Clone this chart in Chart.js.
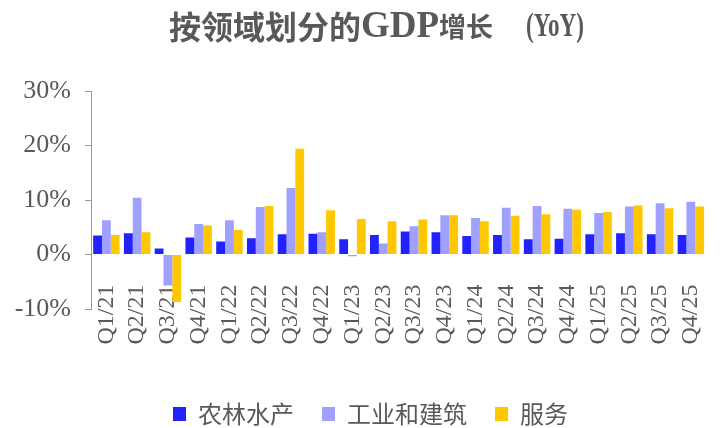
<!DOCTYPE html>
<html>
<head>
<meta charset="utf-8">
<script src="https://cdn.jsdelivr.net/npm/chart.js@4"></script>
<style>
  html, body { margin: 0; background: #fff; }
  #wrap { width: 720px; height: 428px; }
</style>
</head>
<body>
<div id="wrap"><canvas id="gdpChart"></canvas></div>
<script>
// data (YoY %, quarterly)
const quarters = ["Q1/21", "Q2/21", "Q3/21", "Q4/21", "Q1/22", "Q2/22", "Q3/22", "Q4/22",
  "Q1/23", "Q2/23", "Q3/23", "Q4/23", "Q1/24", "Q2/24", "Q3/24", "Q4/24",
  "Q1/25", "Q2/25", "Q3/25", "Q4/25"];
const agriculture = [3.5, 3.9, 1.1, 3.1, 2.4, 3.0, 3.7, 3.8, 2.8, 3.6, 4.2, 4.1, 3.4, 3.6, 2.8, 2.9, 3.7, 3.9, 3.7, 3.6];
const industry = [6.3, 10.4, -5.7, 5.6, 6.3, 8.7, 12.2, 4.1, -0.3, 2.0, 5.2, 7.2, 6.7, 8.6, 8.9, 8.4, 7.6, 8.8, 9.4, 9.7];
const services = [3.6, 4.1, -8.7, 5.3, 4.5, 8.9, 19.4, 8.1, 6.5, 6.1, 6.4, 7.2, 6.1, 7.1, 7.4, 8.2, 7.8, 9.0, 8.5, 8.8];
const seriesNames = ["农林水产", "工业和建筑", "服务"];
const yTicks = [-10, 0, 10, 20, 30];

const textGray = "#595959";
const serif = "'Liberation Serif', 'Times New Roman', serif";
const cjk = "'Noto Sans CJK SC', sans-serif";

// title is drawn by hand: mixed fonts, and it sits a bit left of centre
const titleParts = [
  { text: "按领域划分的", font: "bold 32px " + cjk, sx: 1 },
  { text: "GDP", font: "bold 37px " + serif, sx: 1 },
  { text: "增长", font: "bold 27px " + cjk, sx: 1 },
  { text: "　", font: "bold 33px " + cjk, sx: 1 },
  { text: "(YoY)", font: "bold 34px " + serif, sx: 0.68 }
];
const titlePlugin = {
  id: "sideTitle",
  afterDraw(chart) {
    const c = chart.ctx;
    c.save();
    c.fillStyle = textGray;
    c.textAlign = "left";
    c.textBaseline = "middle";
    let x = 169;
    titleParts.forEach(p => {
      c.font = p.font;
      c.save();
      c.translate(x, 27);
      c.scale(p.sx, 1);
      c.fillText(p.text, 0, 0);
      c.restore();
      x += c.measureText(p.text).width * p.sx;
    });
    c.restore();
  }
};

const ctx = document.getElementById("gdpChart").getContext("2d");
new Chart(ctx, {
  type: "bar",
  data: {
    labels: quarters,
    datasets: [
      { label: seriesNames[0], data: agriculture, backgroundColor: "#2222ff" },
      { label: seriesNames[1], data: industry, backgroundColor: "#a0a0ff" },
      { label: seriesNames[2], data: services, backgroundColor: "#ffc700" }
    ]
  },
  options: {
    responsive: true,
    maintainAspectRatio: false,
    animation: false,
    categoryPercentage: 0.86,
    barPercentage: 1.0,
    // negative right padding only nudges the legend; yPad gives the plot its right margin back
    layout: { padding: { top: 91, left: 11, right: -10, bottom: -8 } },
    plugins: {
      title: { display: false },
      tooltip: { enabled: false },
      legend: {
        position: "bottom",
        labels: {
          boxWidth: 13,
          boxHeight: 14,
          padding: 28,
          color: textGray,
          font: { family: cjk, size: 24 }
        }
      }
    },
    scales: {
      // keeps room below the plot; the labels themselves hang off the 0% line
      x: {
        position: "bottom",
        grid: { display: false },
        border: { display: false },
        ticks: { display: false },
        afterFit: (s) => { s.height = 65; }
      },
      xLabels: {
        type: "category",
        labels: quarters,
        offset: true,
        position: { y: 0 },
        z: 1,
        // invisible tick marks push the labels down without adding side padding
        grid: { display: true, drawOnChartArea: false, drawTicks: true, tickLength: 30, color: "rgba(0,0,0,0)" },
        border: { display: false },
        ticks: {
          autoSkip: false,
          maxRotation: 90,
          minRotation: 90,
          padding: 0,
          color: textGray,
          font: { family: serif, size: 24 }
        }
      },
      y: {
        min: yTicks[0],
        max: yTicks[yTicks.length - 1],
        afterBuildTicks: (s) => { s.ticks = yTicks.map(v => ({ value: v })); },
        afterFit: (s) => { s.width = 80; },
        border: { display: true, color: "#999999", width: 1 },
        grid: { drawOnChartArea: false, drawTicks: true, tickLength: 6, color: "#999999" },
        ticks: {
          padding: 14,
          color: textGray,
          font: { family: serif, size: 26 },
          callback: (v) => v + "%"
        }
      },
      yPad: {
        type: "linear",
        position: "right",
        grid: { display: false },
        border: { display: false },
        ticks: { display: false },
        afterFit: (s) => { s.width = 19; }
      }
    }
  },
  plugins: [titlePlugin]
});
</script>
</body>
</html>
